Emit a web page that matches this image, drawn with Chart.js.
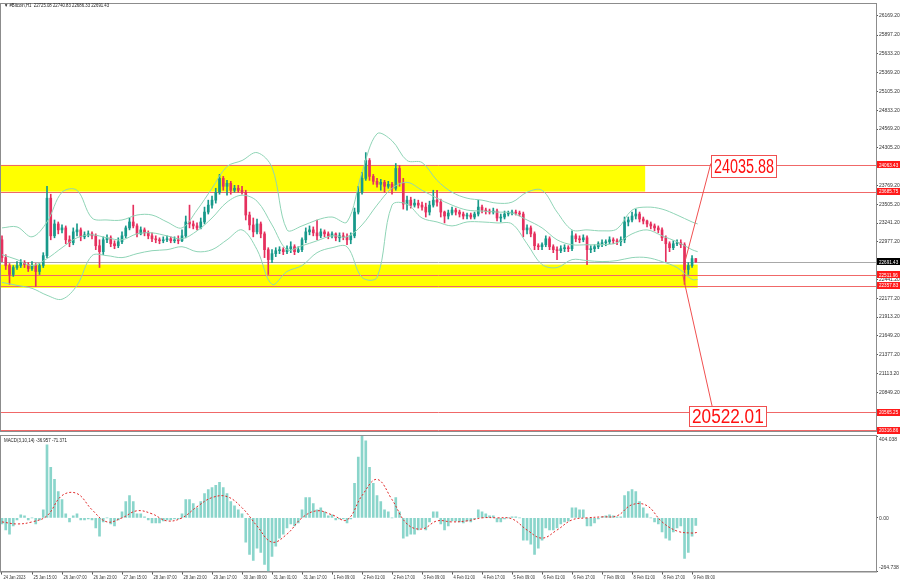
<!DOCTYPE html>
<html><head><meta charset="utf-8">
<script src="https://cdn.jsdelivr.net/npm/chart.js@4.4.1/dist/chart.umd.min.js"></script>
<style>
html,body{margin:0;padding:0;background:#fff;width:900px;height:585px;overflow:hidden}
#c1{position:absolute;left:0;top:0}
#c2{position:absolute;left:0;top:435px}
</style></head><body>
<canvas id="c1" width="900" height="435"></canvas>
<canvas id="c2" width="900" height="150"></canvas>
<script>
// ---------- DATA ----------
const headerText = '\u25BC #Bitcoin,H1  22725.08 22740.83 22686.33 22691.43';
const macdHeader = 'MACD(3,10,14) -36.957 -71.371';
const timeLabels = ['24 Jan 2023','25 Jan 15:00','26 Jan 07:00','26 Jan 23:00','27 Jan 15:00','28 Jan 07:00','28 Jan 23:00','29 Jan 17:00','30 Jan 09:00','31 Jan 01:00','31 Jan 17:00','1 Feb 09:00','2 Feb 01:00','2 Feb 17:00','3 Feb 09:00','4 Feb 01:00','4 Feb 17:00','5 Feb 09:00','6 Feb 01:00','6 Feb 17:00','7 Feb 09:00','8 Feb 01:00','8 Feb 17:00','9 Feb 09:00'];
const priceTicks = [26169.2,25897.2,25633.2,25369.2,25105.2,24833.2,24569.2,24305.2,23769.2,23505.2,23241.2,22977.2,22441.2,22177.2,21913.2,21649.2,21377.2,21113.2,20849.2];
const macdTicks = [404.038, 0, -264.738];

// 2-hour candles (x index in hours)
const firstOpen = 23005;
const closes = [22753,22641,22515,22613,22641,22683,22655,22599,22641,22557,
22641,22781,23593,23061,23229,23145,23173,23005,22963,23117,
23145,23047,23075,23089,23061,22921,22837,23005,23033,22949,
22921,22977,23061,23173,23257,23201,23089,23145,23103,23061,
23019,23005,22991,23005,23019,22991,23005,22991,23061,23257,
23229,23201,23173,23257,23397,23495,23565,23677,23873,23761,
23803,23705,23733,23705,23677,23355,23215,23117,23229,23089,
22865,22725,22809,22851,22865,22837,22879,22907,22837,22865,
23005,23117,23145,23103,23061,23117,23089,23061,23089,23033,
23061,23047,23005,23061,23397,23677,23873,24125,23901,23831,
23789,23817,23761,23789,23733,24013,23817,23509,23565,23495,
23523,23495,23467,23397,23495,23565,23537,23397,23341,23383,
23425,23397,23369,23341,23355,23327,23369,23467,23425,23411,
23397,23411,23313,23327,23369,23383,23397,23383,23369,23145,
23173,23089,22921,22907,22935,23019,22907,22865,22851,22879,
22893,22879,23061,23019,23005,23033,22865,22879,22907,22949,
22963,22977,23005,22991,22977,23005,23257,23285,23341,23369,
23299,23271,23229,23201,23173,23145,23033,22949,22893,22949,
22963,22935,22585,22641,22739,22691.43];
const highs = [23061,22795,22669,22641,22697,22725,22711,22683,22697,22669,
22669,22823,23761,23649,23285,23257,23215,23201,23061,23173,
23229,23173,23117,23131,23117,23089,23005,23047,23075,23061,
22991,23033,23117,23201,23313,23495,23229,23187,23173,23131,
23103,23061,23033,23047,23061,23047,23047,23061,23145,23341,
23495,23271,23243,23313,23467,23565,23621,23733,23929,23901,
23845,23831,23775,23775,23761,23705,23397,23313,23299,23257,
23117,22893,22865,22893,22907,22893,22921,22977,22935,22907,
23033,23173,23201,23187,23285,23159,23145,23117,23117,23103,
23103,23103,23089,23103,23453,23761,23957,24237,24153,23929,
23873,23859,23845,23831,23817,24083,24055,23873,23621,23607,
23579,23565,23537,23523,23551,23705,23705,23579,23411,23425,
23467,23453,23425,23397,23383,23383,23397,23565,23495,23453,
23439,23453,23439,23369,23411,23411,23425,23425,23411,23397,
23215,23201,23117,22949,22963,23061,23047,22935,22907,22921,
22935,22921,23131,23089,23061,23075,23061,22921,22935,22977,
23005,23005,23047,23033,23019,23047,23327,23327,23397,23439,
23397,23327,23285,23257,23229,23201,23173,23061,22977,22991,
23005,23005,22963,22683,22781,22740.83];
const lows = [22697,22585,22375,22487,22585,22613,22613,22557,22571,22347,
22515,22613,22753,23005,23033,23089,23103,22949,22907,22935,
23061,22991,23019,23047,23019,22865,22613,22795,22963,22907,
22879,22893,22949,23033,23145,23173,23047,23075,23061,23019,
22977,22963,22949,22963,22977,22963,22963,22949,22977,23033,
23173,23159,23145,23159,23229,23369,23453,23523,23649,23705,
23635,23649,23677,23677,23649,23285,23145,23047,23089,23033,
22753,22515,22683,22767,22809,22795,22809,22823,22795,22823,
22837,22963,23075,23061,23005,23033,23047,23019,23033,22991,
22977,23005,22935,22949,23033,23369,23649,23845,23845,23789,
23747,23705,23677,23733,23649,23705,23761,23439,23425,23453,
23467,23453,23425,23327,23355,23467,23481,23327,23243,23299,
23355,23355,23327,23299,23299,23299,23299,23341,23383,23369,
23369,23369,23271,23257,23299,23341,23355,23355,23341,23047,
23089,23047,22865,22865,22865,22907,22865,22823,22725,22823,
22837,22837,22851,22977,22963,22977,22655,22823,22837,22879,
22907,22921,22949,22949,22935,22921,22963,23201,23257,23299,
23257,23229,23187,23159,23131,23103,22991,22697,22837,22865,
22921,22893,22375,22515,22613,22686.33];

// Bollinger bands, read every 8 hours
const bbUpper = [23173,23187,23047,23257,23677,23705,23313,23285,23285,23355,23355,23257,23173,23425,23733,24041,24125,24237,24027,23145,23201,23285,23327,23257,23957,24503,24405,24125,24097,23845,23677,23593,23565,23523,23537,23677,23705,23397,23145,23145,23131,23159,23425,23467,23439,23355,23257,23229];
const bbMiddle = [22795,22725,22641,22739,22893,23033,23075,23033,23005,23089,23103,23061,23019,23131,23313,23537,23635,23551,23215,22865,22921,22991,23061,23047,23215,23495,23733,23817,23705,23593,23495,23425,23411,23397,23383,23285,23173,23005,22935,22935,22935,22963,23089,23145,23061,22977,22865,22837];
const bbLower = [22403,22361,22319,22221,22165,22361,22781,22781,22753,22809,22851,22865,22907,22837,22865,23005,23145,22865,22375,22557,22641,22823,22893,22907,22473,22473,23495,23509,23313,23257,23201,23257,23257,23243,23229,22949,22655,22613,22725,22711,22697,22711,22753,22753,22697,22613,22445,22445];

// MACD histogram (per 2-hour bar) and signal (every 8 hours)
const macdMain = [-30,-60,-80,-40,-10,15,10,-10,0,-30,
-10,40,360,250,190,130,90,20,-20,10,
20,-10,-10,-5,-10,-50,-90,-20,0,-30,
-40,-10,30,80,110,80,20,20,5,-10,
-25,-25,-25,-15,-10,-10,-5,-5,20,90,
90,70,50,80,120,140,150,160,175,150,
120,80,60,40,20,-120,-180,-210,-150,-170,
-230,-264.738,-190,-140,-100,-80,-50,-30,-40,-25,
40,100,100,70,40,50,30,10,15,-10,
-5,-5,-25,-5,170,300,404.038,380,250,170,
110,80,40,30,0,100,30,-100,-90,-80,
-80,-60,-50,-60,-20,30,30,-30,-60,-40,
-15,-15,-20,-25,-15,-20,-5,40,30,20,
10,10,-20,-20,-5,0,5,5,0,-110,
-110,-130,-180,-150,-110,-50,-60,-60,-50,-30,
-20,-15,50,50,40,40,-40,-40,-25,-5,
5,10,15,10,5,5,110,130,140,130,
80,50,20,0,-20,-30,-70,-100,-110,-70,
-50,-40,-200,-170,-90,-36.957];
const macdSignal = [-20,-30,-20,10,110,120,40,-20,0,35,20,-15,0,55,100,105,50,-40,-120,-80,0,35,15,-10,110,190,90,-30,-55,-15,-20,-15,0,0,-5,-60,-100,-60,-10,0,5,10,65,60,-20,-65,-75,-71.371];

// Levels and zones
const levelPrices = [24063.43, 23685.75, 22511.96, 22357.83, 20565.25, 20316.86];
const currentPrice = 22691.43;
const zoneStart = [-1, -1];
const zoneEnd = [343, 371];
const zoneTop = [24063.43, 22655];
const zoneBottom = [23685.75, 22326];
const targetValues = [24035.88, 20522.01];

// ---------- CONFIG (positions in data units) ----------
const HOURS_PER_BAR = 2;
const bbIdx = Array.from({length: 47}, (_, i) => i * 8).concat([371]);
const arrowFrom = [[364.5, 22725], [363, 22515]];
const arrowTo = [[378, 24083], [378.7, 20653]];
const targetAnchor = [[378, 24041], [366.4, 20513]];
const targetScaleX = [0.72, 0.86];

const FONT = '"Liberation Sans", Arial, sans-serif';
const bull = '#17998a', bear = '#e5305e';
const opens = closes.map((c, i) => i === 0 ? firstOpen : closes[i - 1]);
const barX = closes.map((_, i) => i * HOURS_PER_BAR);
const candleColors = closes.map((c, i) => c >= opens[i] ? bull : bear);
const X_MIN = -0.533, X_MAX = 466.1;

function narrowText(ctx, text, x, y, sx) {
  ctx.save();
  ctx.translate(x, y); ctx.scale(sx, 1);
  ctx.fillText(text, 0, 0);
  ctx.restore();
}

const mainOverlay = {
  id: 'mainOverlay',
  beforeDatasetsDraw(chart) {
    const {ctx, chartArea: a, scales: {x, y}} = chart;
    ctx.save();
    ctx.beginPath(); ctx.rect(a.left, a.top, a.width, a.height); ctx.clip();
    ctx.fillStyle = '#ffff00';
    for (let i = 0; i < zoneTop.length; i++) {
      const x0 = Math.max(a.left, x.getPixelForValue(zoneStart[i]));
      const x1 = x.getPixelForValue(zoneEnd[i]);
      const y0 = y.getPixelForValue(zoneTop[i]);
      const y1 = y.getPixelForValue(zoneBottom[i]);
      ctx.fillRect(x0, y0, x1 - x0, y1 - y0);
    }
    ctx.lineWidth = 1;
    ctx.strokeStyle = '#a8a8a8';
    const yy = Math.round(y.getPixelForValue(currentPrice)) + 0.5;
    ctx.beginPath(); ctx.moveTo(a.left, yy); ctx.lineTo(a.right, yy); ctx.stroke();
    ctx.strokeStyle = '#f06868';
    levelPrices.forEach(p => {
      const py = Math.round(y.getPixelForValue(p)) + 0.5;
      ctx.beginPath(); ctx.moveTo(a.left, py); ctx.lineTo(a.right, py); ctx.stroke();
    });
    ctx.restore();
  },
  afterDatasetsDraw(chart) {
    const {ctx, chartArea: a, scales: {x, y}} = chart;
    ctx.save();
    ctx.beginPath(); ctx.rect(a.left, a.top, a.width, a.height); ctx.clip();
    ctx.strokeStyle = '#f05050'; ctx.lineWidth = 1;
    for (let i = 0; i < arrowFrom.length; i++) {
      ctx.beginPath();
      ctx.moveTo(x.getPixelForValue(arrowFrom[i][0]), y.getPixelForValue(arrowFrom[i][1]));
      ctx.lineTo(x.getPixelForValue(arrowTo[i][0]), y.getPixelForValue(arrowTo[i][1]));
      ctx.stroke();
    }
    for (let i = 0; i < targetValues.length; i++) {
      const text = targetValues[i].toFixed(2);
      const xl = Math.round(x.getPixelForValue(targetAnchor[i][0]));
      const yc = y.getPixelForValue(targetAnchor[i][1]);
      ctx.font = '20px ' + FONT;
      const sx = targetScaleX[i];
      const w = Math.round(ctx.measureText(text).width * sx + 5);
      const h = i === 0 ? 22 : 20;
      const yt = Math.round(yc - h / 2);
      ctx.fillStyle = '#ffffff'; ctx.fillRect(xl, yt, w, h);
      ctx.strokeStyle = '#f05050'; ctx.strokeRect(xl + 0.5, yt + 0.5, w, h);
      ctx.fillStyle = '#ff1010'; ctx.textBaseline = 'middle'; ctx.textAlign = 'left';
      narrowText(ctx, text, xl + 3, yc + 1, sx);
    }
    ctx.restore();
  },
  afterDraw(chart) {
    const {ctx, chartArea: a, scales: {y}} = chart;
    ctx.save();
    ctx.strokeStyle = '#8c8c8c'; ctx.lineWidth = 1;
    ctx.strokeRect(a.left - 0.5, a.top - 0.5, a.right - a.left + 1, a.bottom - a.top + 1);
    ctx.font = '5px ' + FONT; ctx.textBaseline = 'middle'; ctx.textAlign = 'left';
    const lab = (p, bg) => {
      const py = y.getPixelForValue(p);
      ctx.fillStyle = bg; ctx.fillRect(a.right + 1, Math.round(py - 3.5), 23, 7);
      ctx.fillStyle = '#ffffff'; narrowText(ctx, p.toFixed(2), a.right + 3, py + 0.5, 0.92);
    };
    levelPrices.forEach(p => lab(p, '#ff1a1a'));
    lab(currentPrice, '#000000');
    ctx.fillStyle = '#222';
    narrowText(ctx, headerText, 4, 6, 0.86);
    ctx.restore();
  }
};

new Chart(document.getElementById('c1'), {
  type: 'bar',
  data: {
    datasets: [
      {type: 'line', data: bbIdx.map((v, i) => ({x: v, y: bbUpper[i]})), borderColor: '#8fd4b6', borderWidth: 1, pointRadius: 0, tension: 0.35, fill: false},
      {type: 'line', data: bbIdx.map((v, i) => ({x: v, y: bbMiddle[i]})), borderColor: '#8fd4b6', borderWidth: 1, pointRadius: 0, tension: 0.35, fill: false},
      {type: 'line', data: bbIdx.map((v, i) => ({x: v, y: bbLower[i]})), borderColor: '#8fd4b6', borderWidth: 1, pointRadius: 0, tension: 0.35, fill: false},
      {type: 'bar', data: barX.map((v, i) => ({x: v, y: [opens[i], closes[i]]})), backgroundColor: candleColors, barThickness: 2, minBarLength: 1, grouped: false, borderWidth: 0},
      {type: 'bar', data: barX.map((v, i) => ({x: v, y: [lows[i], highs[i]]})), backgroundColor: candleColors, barThickness: 1, grouped: false, borderWidth: 0}
    ]
  },
  options: {
    responsive: false, animation: false, events: [],
    layout: {padding: {left: 1, right: 0, top: 2, bottom: 2}},
    plugins: {legend: {display: false}, tooltip: {enabled: false}},
    scales: {
      x: {type: 'linear', min: X_MIN, max: X_MAX, display: false, offset: false, grid: {offset: false}},
      y: {type: 'linear', position: 'right', min: 20303, max: 26337,
          afterFit: s => { s.width = 24; },
          afterBuildTicks: s => { s.ticks = priceTicks.map(v => ({value: v})); },
          ticks: {autoSkip: false, padding: 1, color: '#333', font: {size: 5, family: FONT}, callback: v => Number(v).toFixed(2)},
          grid: {display: true, drawOnChartArea: false, drawTicks: true, tickLength: 2, color: '#555'},
          border: {display: true, color: '#8c8c8c'}}
    }
  },
  plugins: [mainOverlay]
});

const macdOverlay = {
  id: 'macdOverlay',
  afterDraw(chart) {
    const {ctx, chartArea: a, scales: {x, y}} = chart;
    ctx.save();
    ctx.strokeStyle = '#8c8c8c'; ctx.lineWidth = 1;
    ctx.strokeRect(a.left - 0.5, a.top - 0.5, a.right - a.left + 1, a.bottom - a.top + 1);
    ctx.font = '5px ' + FONT; ctx.fillStyle = '#333'; ctx.textBaseline = 'middle'; ctx.textAlign = 'left';
    const shift = [4, 0.5, -3.5];
    macdTicks.forEach((v, i) => {
      const label = v === 0 ? '0.00' : v.toFixed(3);
      ctx.fillText(label, a.right + 3, y.getPixelForValue(v) + shift[i]);
    });
    timeLabels.forEach((t, i) => {
      narrowText(ctx, t, x.getPixelForValue(i * 16) + 1.5, a.bottom + 6, 0.8);
    });
    ctx.fillStyle = '#222';
    narrowText(ctx, macdHeader, 4, a.top + 5, 0.88);
    ctx.restore();
  }
};

new Chart(document.getElementById('c2'), {
  type: 'bar',
  data: {
    datasets: [
      {type: 'line', data: bbIdx.map((v, i) => ({x: v, y: macdSignal[i]})), borderColor: '#e02828', borderWidth: 1, borderDash: [2, 2], pointRadius: 0, tension: 0.4, fill: false},
      {type: 'bar', data: barX.map((v, i) => ({x: v, y: macdMain[i]})), backgroundColor: '#8ad5cb', barThickness: 2, grouped: false, borderWidth: 0}
    ]
  },
  options: {
    responsive: false, animation: false, events: [],
    layout: {padding: {left: 1, right: 0, top: 1, bottom: 0}},
    plugins: {legend: {display: false}, tooltip: {enabled: false}},
    scales: {
      x: {type: 'linear', min: X_MIN, max: X_MAX, offset: false, position: 'bottom',
          afterFit: s => { s.height = 13.5; },
          afterBuildTicks: s => { s.ticks = timeLabels.map((_, i) => ({value: i * 16})); },
          ticks: {display: false, autoSkip: false, maxRotation: 0, minRotation: 0},
          grid: {display: true, drawOnChartArea: false, drawTicks: true, tickLength: 3, color: '#555', offset: false},
          border: {display: true, color: '#8c8c8c'}},
      y: {type: 'linear', position: 'right', min: -264.738, max: 404.038,
          afterFit: s => { s.width = 24; },
          afterBuildTicks: s => { s.ticks = macdTicks.map(v => ({value: v})); },
          ticks: {display: false},
          grid: {display: true, drawOnChartArea: false, drawTicks: true, tickLength: 2, color: '#555'},
          border: {display: true, color: '#8c8c8c'}}
    }
  },
  plugins: [macdOverlay]
});
</script>
</body></html>
